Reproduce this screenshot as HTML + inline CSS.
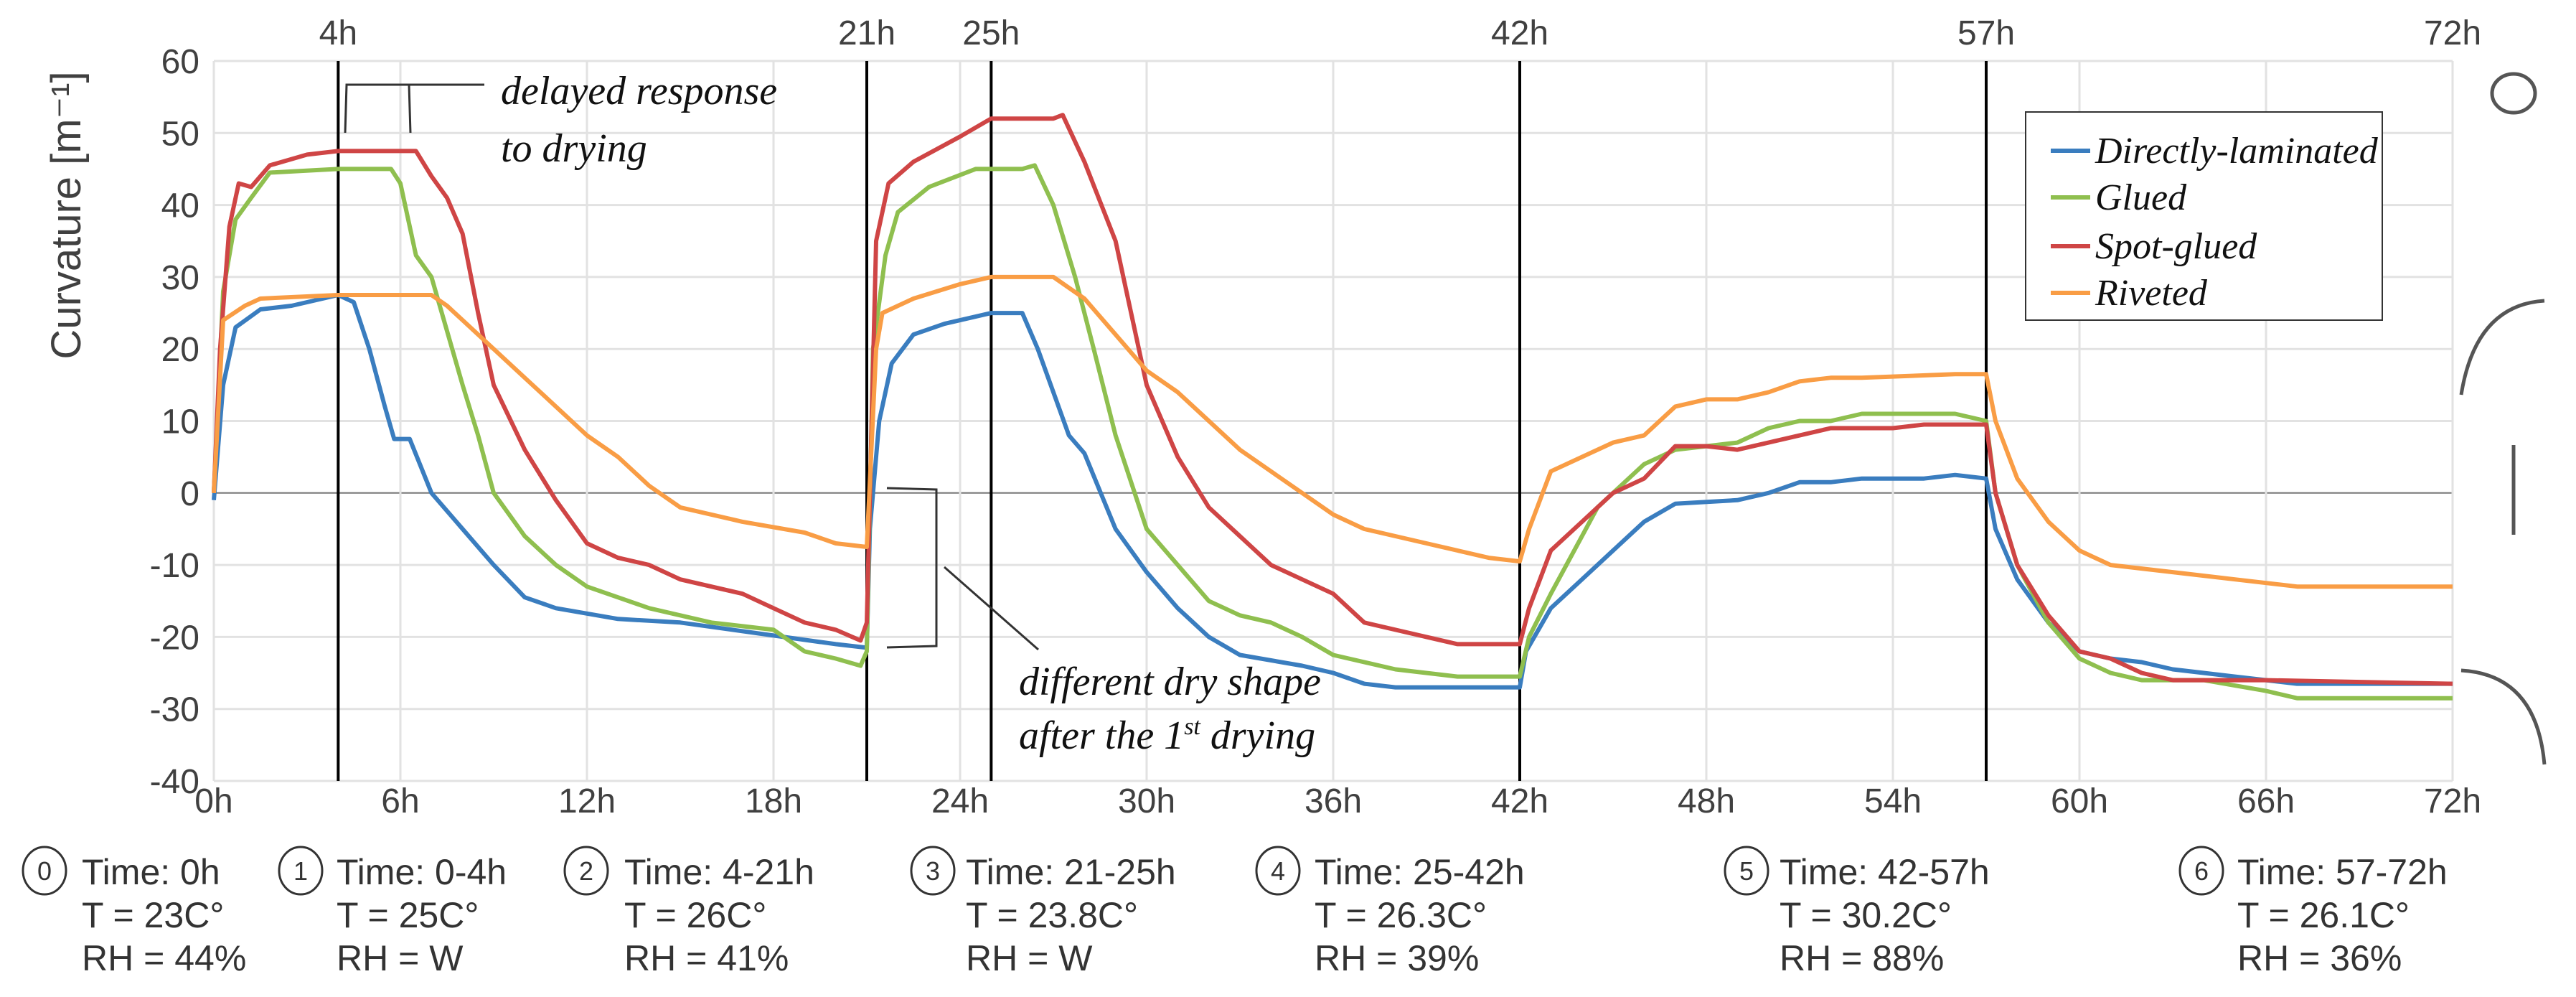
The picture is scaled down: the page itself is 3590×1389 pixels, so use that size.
<!DOCTYPE html>
<html><head><meta charset="utf-8"><style>
html,body{margin:0;padding:0;background:#fff;}
svg{display:block;font-family:"Liberation Sans",sans-serif;}
.tk{font-size:48px;fill:#404040;}
.ann{font-family:"Liberation Serif",serif;font-style:italic;font-size:56px;fill:#111;}
.bt{font-size:50px;fill:#333;}
</style></head><body>
<svg id="chart" width="3590" height="1389" viewBox="0 0 3590 1389">
<g id="grid"></g>
<g id="vlines"></g>
<g id="series"></g>
<g id="axes"></g>
<text x="112" y="300" class="tk" style="font-size:58px" text-anchor="middle" transform="rotate(-90 112 300)">Curvature [m⁻¹]</text>
<g>
<rect x="2823" y="156" width="497" height="290" fill="#fff" stroke="#333" stroke-width="2"/>
<g font-family="Liberation Serif,serif" font-style="italic" font-size="52" fill="#111">
<line x1="2858" y1="210" x2="2913" y2="210" stroke="#3a7dbf" stroke-width="6"/><text x="2920" y="227">Directly-laminated</text>
<line x1="2858" y1="275" x2="2913" y2="275" stroke="#8fbf4f" stroke-width="6"/><text x="2920" y="292">Glued</text>
<line x1="2858" y1="343" x2="2913" y2="343" stroke="#cf4545" stroke-width="6"/><text x="2920" y="360">Spot-glued</text>
<line x1="2858" y1="408" x2="2913" y2="408" stroke="#f99d45" stroke-width="6"/><text x="2920" y="425">Riveted</text>
</g></g>
<g fill="none" stroke="#555" stroke-width="5">
<ellipse cx="3503" cy="130" rx="30" ry="27"/>
<path d="M3430 550 Q3450 425 3546 419"/>
<line x1="3503" y1="620" x2="3503" y2="745"/>
<path d="M3430 934 Q3535 940 3546 1065"/>
</g>
<g fill="none" stroke="#333" stroke-width="3">
<path d="M481 185 L483 118 L675 118 M570 118 L572 185"/>
</g>
<text x="698" y="145" class="ann">delayed response</text>
<text x="698" y="225" class="ann">to drying</text>
<g fill="none" stroke="#333" stroke-width="3">
<path d="M1236 680 L1305 682 L1305 900 L1236 902 M1316 790 L1447 905"/>
</g>
<text x="1420" y="968" class="ann">different dry shape</text>
<text x="1420" y="1043" class="ann">after the 1<tspan font-size="34" dy="-20">st</tspan><tspan dy="20"> drying</tspan></text>
<g id="phases"></g>
</svg>
<script>
const NS="http://www.w3.org/2000/svg";
const X0=298,X1=3418,Y60=85,Ym40=1088;
const xs=h=>X0+(X1-X0)*h/72;
const ys=v=>Y60+(60-v)*(Ym40-Y60)/100;
const yTicks=[60,50,40,30,20,10,0,-10,-20,-30,-40];
const xTicks=[0,6,12,18,24,30,36,42,48,54,60,66,72];
const phaseHours=[4,21,25,42,57];
const topLabels=[4,21,25,42,57,72];
const blueH=[0,0.3,0.7,1.5,2.5,4,4.5,5,5.5,5.8,6.3,7,8,9,10,11,13,15,18,20,21,21.1,21.4,21.8,22.5,23.5,25,26,26.5,27.5,28,29,30,31,32,33,35,36,37,38,42,42.2,43,44,45,46,47,49,50,51,52,53,55,56,57,57.3,58,59,60,61,62,63,65,67,72];
const blueV=[-1,15,23,25.5,26,27.5,26.5,20,12,7.5,7.5,0,-5,-10,-14.5,-16,-17.5,-18,-19.8,-21,-21.5,-5,10,18,22,23.5,25,25,20,8,5.5,-5,-11,-16,-20,-22.5,-24,-25,-26.5,-27,-27,-22,-16,-12,-8,-4,-1.5,-1,0,1.5,1.5,2,2,2.5,2,-5,-12,-18,-22,-23,-23.5,-24.5,-25.5,-26.5,-26.5];
const greenH=[0,0.3,0.7,1.2,1.8,4,5.7,6,6.5,7,8,8.5,9,10,11,12,14,16,18,19,20,20.8,21,21.2,21.6,22,23,24.5,26,26.4,27,27.7,28.3,29,30,31,32,33,34,35,36,38,40,42,42.3,43,44,44.5,45,46,47,48,49,50,51,52,53,55,56,57,57.3,58,59,60,61,62,64,66,67,72];
const greenV=[0,28,38,41,44.5,45,45,43,33,30,15,8,0,-6,-10,-13,-16,-18,-19,-22,-23,-24,-22,20,33,39,42.5,45,45,45.5,40,30,20,8,-5,-10,-15,-17,-18,-20,-22.5,-24.5,-25.5,-25.5,-20,-14,-6,-2,0,4,6,6.5,7,9,10,10,11,11,11,10,0,-10,-18,-23,-25,-26,-26,-27.5,-28.5,-28.5];
const redH=[0,0.2,0.5,0.8,1.2,1.8,3,4,6.5,7,7.5,8,8.5,9,10,11,12,13,14,15,17,18,19,20,20.8,21,21.3,21.7,22.5,24,25,27,27.3,28,29,30,31,32,33,34,35,36,37,39,40,42,42.3,43,44,45,46,47,48,49,50,51,52,54,55,56,57,57.3,58,59,60,61,62,63,66,72];
const redV=[0,20,37,43,42.5,45.5,47,47.5,47.5,44,41,36,25,15,6,-1,-7,-9,-10,-12,-14,-16,-18,-19,-20.5,-18,35,43,46,49.5,52,52,52.5,46,35,15,5,-2,-6,-10,-12,-14,-18,-20,-21,-21,-16,-8,-4,0,2,6.5,6.5,6,7,8,9,9,9.5,9.5,9.5,0,-10,-17,-22,-23,-25,-26,-26,-26.5];
const orangeH=[0,0.3,1,1.5,4,7,7.5,8,9,10,11,12,13,14,15,17,19,20,21,21.3,21.5,22.5,24,25,27,28,29,30,31,32,33,34,35,36,37,38,39,40,41,42,42.3,43,44,45,46,47,48,49,50,51,52,53,56,57,57.3,58,59,60,61,63,65,66,67,72];
const orangeV=[0,24,26,27,27.5,27.5,26,24,20,16,12,8,5,1,-2,-4,-5.5,-7,-7.5,20,25,27,29,30,30,27,22,17,14,10,6,3,0,-3,-5,-6,-7,-8,-9,-9.5,-5,3,5,7,8,12,13,13,14,15.5,16,16,16.5,16.5,10,2,-4,-8,-10,-11,-12,-12.5,-13,-13];
function mk(tag,attrs,parent){const e=document.createElementNS(NS,tag);for(const k in attrs)e.setAttribute(k,attrs[k]);parent.appendChild(e);return e;}
const grid=document.getElementById('grid'),axes=document.getElementById('axes'),vl=document.getElementById('vlines'),ser=document.getElementById('series');
yTicks.forEach(v=>{
 const l=mk('line',{x1:X0,x2:X1,y1:ys(v),y2:ys(v),stroke:v===0?'#777':'#e2e2e2','stroke-width':v===0?2:3},grid);
 
 
 const t=mk('text',{x:X0-20,y:ys(v)+17,'text-anchor':'end',class:'tk'},axes);t.textContent=v;
 
 
});
xTicks.forEach(h=>{
 const l=mk('line',{x1:xs(h),x2:xs(h),y1:Y60,y2:Ym40,stroke:'#e2e2e2','stroke-width':3},grid);
 
 
 const t=mk('text',{x:xs(h),y:1132,'text-anchor':'middle',class:'tk'},axes);t.textContent=h+'h';
 
 
});
phaseHours.forEach(h=>{
 const l=mk('line',{x1:xs(h),x2:xs(h),y1:Y60,y2:Ym40,stroke:'#000','stroke-width':4},vl);
 
 
});
topLabels.forEach(h=>{
 const t=mk('text',{x:xs(h),y:62,'text-anchor':'middle',class:'tk'},axes);t.textContent=h+'h';
 
 
});
[[blueH,blueV,'#3a7dbf','directly-laminated-line'],[greenH,greenV,'#8fbf4f','glued-line'],[redH,redV,'#cf4545','spot-glued-line'],[orangeH,orangeV,'#f99d45','riveted-line']].forEach(s=>{
 const d=s[0].map((h,i)=>(i?'L':'M')+xs(h).toFixed(1)+' '+ys(s[1][i]).toFixed(1)).join(' ');
 const p=mk('path',{d:d,fill:'none',stroke:s[2],'stroke-width':6,'stroke-linejoin':'round'},ser);
 
 
});
const phases=[[62,114,'0','Time: 0h','T = 23C°','RH = 44%'],[419,469,'1','Time: 0-4h','T = 25C°','RH = W'],[817,870,'2','Time: 4-21h','T = 26C°','RH = 41%'],[1300,1346,'3','Time: 21-25h','T = 23.8C°','RH = W'],[1781,1832,'4','Time: 25-42h','T = 26.3C°','RH = 39%'],[2434,2480,'5','Time: 42-57h','T = 30.2C°','RH = 88%'],[3068,3118,'6','Time: 57-72h','T = 26.1C°','RH = 36%']];
const pg=document.getElementById('phases');
phases.forEach(p=>{
 const g=mk('g',{},pg);
 
 
 mk('ellipse',{cx:p[0],cy:1213,rx:30,ry:33,fill:'none',stroke:'#333','stroke-width':3},g);
 const n=mk('text',{x:p[0],y:1226,'text-anchor':'middle',style:'font-size:36px;fill:#333'},g);n.textContent=p[2];
 [p[3],p[4],p[5]].forEach((s,i)=>{const t=mk('text',{x:p[1],y:1232+i*60,class:'bt'},g);t.textContent=s;});
});
</script>
</body></html>
